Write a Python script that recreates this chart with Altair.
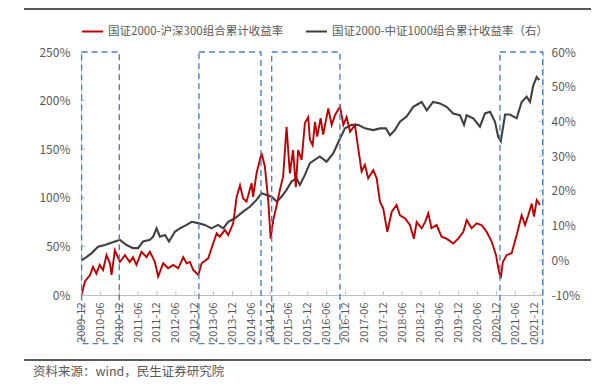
import altair as alt
import pandas as pd

RED_NAME = "国证2000-沪深300组合累计收益率"
GRAY_NAME = "国证2000-中证1000组合累计收益率（右）"
SOURCE = "资料来源：wind，民生证券研究院"

red_dates = [
    "2009-12-01", "2010-01-02", "2010-02-20", "2010-03-21", "2010-04-23", "2010-05-25",
    "2010-06-27", "2010-07-30", "2010-09-01", "2010-09-17", "2010-10-19", "2010-12-07",
    "2011-01-25", "2011-03-12", "2011-04-13", "2011-05-16", "2011-07-04", "2011-08-22",
    "2011-09-23", "2011-11-11", "2011-12-12", "2012-01-30", "2012-03-18", "2012-05-06",
    "2012-06-24", "2012-08-11", "2012-09-13", "2012-10-15", "2012-11-16", "2013-01-04",
    "2013-02-06", "2013-04-10", "2013-05-28", "2013-07-01", "2013-08-01", "2013-09-19",
    "2013-10-21", "2013-12-08", "2014-01-11", "2014-02-12", "2014-03-14", "2014-04-16",
    "2014-06-04", "2014-06-19", "2014-07-22", "2014-09-09", "2014-10-11", "2014-11-12",
    "2014-12-06", "2014-12-31", "2015-02-03", "2015-03-05", "2015-04-06", "2015-05-09",
    "2015-06-10", "2015-07-11", "2015-08-07", "2015-08-29", "2015-10-02", "2015-11-03",
    "2015-12-05", "2015-12-21", "2016-01-17", "2016-02-08", "2016-03-01", "2016-04-03",
    "2016-04-28", "2016-06-16", "2016-07-19", "2016-08-20", "2016-10-08", "2016-11-09",
    "2016-12-11", "2017-01-13", "2017-03-01", "2017-04-02", "2017-05-05", "2017-06-06",
    "2017-07-08", "2017-08-26", "2017-09-28", "2017-10-30", "2017-12-01", "2018-01-09",
    "2018-02-21", "2018-04-09", "2018-05-11", "2018-06-28", "2018-08-16", "2018-09-24",
    "2018-10-20", "2018-12-08", "2019-01-09", "2019-02-10", "2019-03-13", "2019-05-01",
    "2019-06-19", "2019-08-06", "2019-10-09", "2019-11-27", "2020-01-15", "2020-02-17",
    "2020-04-05", "2020-05-23", "2020-07-10", "2020-08-28", "2020-10-16", "2020-11-27",
    "2020-12-19", "2021-01-12", "2021-02-01", "2021-03-09", "2021-04-27", "2021-06-15",
    "2021-08-02", "2021-09-04", "2021-10-05", "2021-11-08", "2021-11-30", "2021-12-26",
    "2022-01-27",
]
red_values = [
    0, 14, 20.6, 29, 22, 31,
    25.7, 41, 32.6, 20.6, 46, 34,
    41, 34, 39, 31, 44.5, 39,
    44.5, 34, 19, 32.6, 27.5, 31,
    27.5, 39, 32.6, 34, 25.7, 20.6,
    32.6, 37.7, 53, 63.5, 60, 67,
    61.7, 73.8, 101, 113, 99.5, 96,
    115, 101, 125, 146, 132, 98,
    58, 77, 92.6, 108, 122, 173,
    125, 149, 111, 149, 139, 177,
    183, 160, 154, 178, 163, 182,
    165, 192, 175, 185, 194, 175,
    183, 168, 175, 151, 127, 134,
    120, 128.6, 120, 96, 89, 65,
    85.7, 92.6, 82, 79, 72, 58,
    75, 68.6, 75, 84, 68.6, 72,
    60, 58, 53, 58, 65, 77,
    68.6, 73.8, 72, 65, 55, 41,
    27.5, 17, 34, 41, 43, 61.7,
    82, 72, 82, 94, 80.6, 97.7,
    92.6,
]

gray_dates = [
    "2009-12-01", "2010-01-19", "2010-03-06", "2010-05-09", "2010-07-14", "2010-09-01",
    "2010-10-19", "2010-12-07", "2011-02-10", "2011-04-13", "2011-06-01", "2011-07-19",
    "2011-09-23", "2011-10-25", "2011-11-27", "2011-12-29", "2012-02-16", "2012-03-27",
    "2012-05-22", "2012-07-10", "2012-09-13", "2012-11-01", "2013-01-04", "2013-03-08",
    "2013-05-12", "2013-07-15", "2013-09-03", "2013-10-21", "2013-12-25", "2014-03-14",
    "2014-05-18", "2014-07-22", "2014-09-09", "2014-10-28", "2014-12-15", "2015-02-03",
    "2015-03-21", "2015-05-09", "2015-06-26", "2015-08-14", "2015-09-15", "2015-11-03",
    "2015-12-21", "2016-03-26", "2016-05-30", "2016-08-03", "2016-10-08", "2016-11-25",
    "2017-01-29", "2017-04-02", "2017-06-06", "2017-08-26", "2017-10-30", "2017-12-27",
    "2018-02-04", "2018-03-23", "2018-05-11", "2018-07-15", "2018-09-17", "2018-12-08",
    "2019-01-26", "2019-03-28", "2019-06-02", "2019-08-06", "2019-10-09", "2019-12-13",
    "2020-01-22", "2020-02-17", "2020-04-20", "2020-06-24", "2020-08-12", "2020-09-30",
    "2020-11-17", "2020-12-19", "2021-01-12", "2021-02-23", "2021-04-11", "2021-06-15",
    "2021-08-02", "2021-09-20", "2021-10-22", "2021-11-23", "2021-12-26", "2022-01-20",
]
gray_values = [
    0, 1, 2, 3.9, 4.4, 4.9,
    5.4, 5.9, 4.4, 3.5, 3.5, 5.4,
    5.9, 6.8, 9.2, 6.8, 7.3, 5.4,
    8.2, 9.2, 10.2, 11.1, 10.7, 10.2,
    9.2, 10.2, 9.2, 11.1, 12.1, 14,
    15.4, 17.4, 19.3, 18.8, 18.3, 16.9,
    18.3, 20.3, 22.7, 23.6, 21.7, 24.6,
    28, 29.9, 28.4, 30.8, 35.1, 38,
    39, 39, 38, 37.5, 38, 38,
    36, 37.5, 39.9, 41.4, 44.2, 45.6,
    43.2, 45.6, 45.2, 44.2, 42.3, 41.8,
    39, 41.8, 40.9, 38.5, 42.3, 42.8,
    39.9, 35.5, 34.3, 42, 42, 40.9,
    45.6, 47.1, 45.6, 50.4, 52.8, 51.9,
]

box_starts = ["2009-12-01", "2013-01-10", "2014-12-16", "2021-01-04"]
box_ends = ["2010-12-01", "2014-09-03", "2016-10-07", "2022-02-22"]
BOX_TOP = 250
BOX_BOTTOM = -50

tick_labels = [
    "2009-12", "2010-06", "2010-12", "2011-06", "2011-12", "2012-06", "2012-12",
    "2013-06", "2013-12", "2014-06", "2014-12", "2015-06", "2015-12", "2016-06",
    "2016-12", "2017-06", "2017-12", "2018-06", "2018-12", "2019-06", "2019-12",
    "2020-06", "2020-12", "2021-06", "2021-12",
]
left_ticks = [0, 50, 100, 150, 200, 250]
right_ticks = [-10, 0, 10, 20, 30, 40, 50, 60]

X_DOMAIN = ["2009-11-25", "2022-02-25"]

red_df = pd.DataFrame({"date": red_dates, "value": red_values, "series": RED_NAME})
gray_df = pd.DataFrame({"date": gray_dates, "value": gray_values, "series": GRAY_NAME})
box_df = pd.DataFrame({"start": box_starts, "end": box_ends,
                       "top": BOX_TOP, "bottom": BOX_BOTTOM})
tick_df = pd.DataFrame({"date": [t + "-01" for t in tick_labels]})
lt_df = pd.DataFrame({"v": left_ticks})
rt_df = pd.DataFrame({"v": right_ticks})
one = pd.DataFrame({"a": [0]})

LABEL = "#595959"
AXIS = "#bfbfbf"

x_scale = alt.Scale(type="utc", domain=X_DOMAIN)
tick_vals = [alt.DateTime(year=int(t[:4]), month=int(t[5:]), date=1, utc=True) for t in tick_labels]
x_axis = alt.Axis(title=None, values=tick_vals, labelExpr="utcFormat(datum.value, '%Y-%m')",
                  labelAngle=270, labelFontSize=11, labelColor=LABEL, labelPadding=7,
                  ticks=False, domainColor=AXIS, grid=False, labelOverlap=False)

left_scale = alt.Scale(domain=[0, 250], nice=False, zero=False)
left_axis = alt.Axis(title=None, values=left_ticks, labelExpr="datum.value + '%'",
                     labelFontSize=12, labelColor=LABEL, labelPadding=11, ticks=False,
                     domainColor="#d9d9d9", grid=False)
right_scale = alt.Scale(domain=[-10, 60], nice=False, zero=False)
right_axis = alt.Axis(title=None, orient="right", values=right_ticks,
                      labelExpr="datum.value + '%'", labelFontSize=12, labelColor=LABEL,
                      labelPadding=8, ticks=False, domainColor="#d9d9d9", grid=False)

color_scale = alt.Scale(domain=[RED_NAME, GRAY_NAME], range=["#c00000", "#404040"])
legend = alt.Legend(title=None, orient="none", legendX=0, legendY=-32, direction="horizontal",
                    symbolType="stroke", symbolSize=441, symbolStrokeWidth=2,
                    labelFontSize=11.5, labelColor=LABEL, columnPadding=18, labelLimit=400)

X = lambda f: alt.X(f, scale=x_scale, axis=x_axis)

red = alt.Chart(red_df).mark_line(strokeWidth=1.9).encode(
    x=X("date:T"),
    y=alt.Y("value:Q", scale=left_scale, axis=left_axis),
    color=alt.Color("series:N", scale=color_scale, legend=legend),
)
gray = alt.Chart(gray_df).mark_line(strokeWidth=2.1).encode(
    x=X("date:T"),
    y=alt.Y("value:Q", scale=right_scale, axis=right_axis),
    color=alt.Color("series:N", scale=color_scale, legend=legend),
)
boxes = alt.Chart(box_df).mark_rect(fill="transparent", stroke="#4f81bd", strokeWidth=1.4,
                                    strokeDash=[6, 4]).encode(
    x=X("start:T"), x2="end:T",
    y=alt.Y("top:Q", scale=left_scale, axis=left_axis), y2="bottom:Q",
)
xticks = alt.Chart(tick_df).mark_rule(color=AXIS).encode(
    x=X("date:T"), y=alt.value(243), y2=alt.value(239))
lticks = alt.Chart(lt_df).mark_rule(color=AXIS).encode(
    y=alt.Y("v:Q", scale=left_scale, axis=left_axis), x=alt.value(0), x2=alt.value(4))
rticks = alt.Chart(rt_df).mark_rule(color=AXIS).encode(
    y=alt.Y("v:Q", scale=right_scale, axis=right_axis), x=alt.value(462), x2=alt.value(458))
top_rule = alt.Chart(one).mark_rule(color="#595959", strokeWidth=2).encode(
    x=alt.value(-57), x2=alt.value(510), y=alt.value(-43))
bottom_rule = alt.Chart(one).mark_rule(color="#595959", strokeWidth=2).encode(
    x=alt.value(-57), x2=alt.value(510), y=alt.value(308))
source = alt.Chart(one).mark_text(text=SOURCE, align="left", baseline="middle",
                                  fontSize=12.5, color="#595959").encode(
    x=alt.value(-48), y=alt.value(320))

right_group = alt.layer(gray, rticks)
left_group = alt.layer(red, lticks, xticks, boxes, top_rule, bottom_rule, source)

chart = alt.layer(right_group, left_group).resolve_scale(y="independent").properties(
    width=462, height=243,
    autosize=alt.AutoSizeParams(type="none"),
    padding={"left": 73, "top": 44, "right": 48, "bottom": 84},
).configure(font="Noto Sans CJK SC").configure_view(stroke=None)

chart.save("out.html", embed_options={"renderer": "svg", "actions": False})
